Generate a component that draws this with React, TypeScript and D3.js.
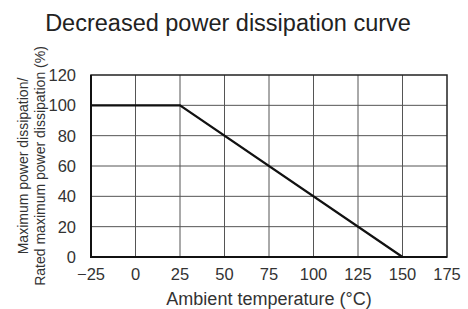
import { useRef, useEffect } from 'react';
import * as d3 from 'd3';

const temperatures = [-25, 25, 150];
const dissipation = [100, 100, 0];
const xTicks = [-25, 0, 25, 50, 75, 100, 125, 150, 175];
const yTicks = [0, 20, 40, 60, 80, 100, 120];

const title = 'Decreased power dissipation curve';
const xLabel = 'Ambient temperature (°C)';
const yLabelLines = ['Maximum power dissipation/', 'Rated maximum power dissipation (%)'];

function App() {
  const svgRef = useRef<SVGSVGElement | null>(null);
  const width = 468;
  const height = 309;

  useEffect(() => {
    const margin = { top: 75, right: 21, bottom: 52, left: 91 };
    const font = "'Liberation Sans', Arial, Helvetica, sans-serif";
    const svg = d3.select(svgRef.current).attr('viewBox', [0, 0, width, height].join(' '));
    svg.selectAll('*').remove();

    const x = d3
      .scaleLinear()
      .domain([-25, 175])
      .range([margin.left, width - margin.right]);
    const y = d3
      .scaleLinear()
      .domain([0, 120])
      .range([height - margin.bottom, margin.top]);

    // grid
    svg
      .append('g')
      .selectAll('line')
      .data(xTicks.slice(1, -1))
      .join('line')
      .attr('x1', (d) => x(d))
      .attr('x2', (d) => x(d))
      .attr('y1', y(0))
      .attr('y2', y(120))
      .attr('stroke', '#555')
      .attr('stroke-width', 1);

    svg
      .append('g')
      .selectAll('line')
      .data(yTicks.slice(1, -1))
      .join('line')
      .attr('x1', x(-25))
      .attr('x2', x(175))
      .attr('y1', (d) => y(d))
      .attr('y2', (d) => y(d))
      .attr('stroke', '#555')
      .attr('stroke-width', 1);

    // frame
    svg
      .append('rect')
      .attr('x', x(-25))
      .attr('y', y(120))
      .attr('width', x(175) - x(-25))
      .attr('height', y(0) - y(120))
      .attr('fill', 'none')
      .attr('stroke', '#222')
      .attr('stroke-width', 1.5);
    svg
      .append('path')
      .attr('d', `M${x(-25)},${y(120)}V${y(0)}H${x(175)}`)
      .attr('fill', 'none')
      .attr('stroke', '#111')
      .attr('stroke-width', 2);

    // curve
    const data = temperatures.map((t, i) => ({ t, p: dissipation[i] }));
    const line = d3
      .line<{ t: number; p: number }>()
      .x((d) => x(d.t))
      .y((d) => y(d.p));
    svg
      .append('path')
      .datum(data)
      .attr('d', line)
      .attr('fill', 'none')
      .attr('stroke', '#111')
      .attr('stroke-width', 2.2);

    // tick labels
    svg
      .append('g')
      .selectAll('text')
      .data(xTicks)
      .join('text')
      .attr('x', (d) => x(d))
      .attr('y', height - 29)
      .attr('text-anchor', 'middle')
      .attr('font-family', font)
      .attr('font-size', 16.5)
      .attr('fill', '#333')
      .text((d) => (d < 0 ? `\u2212${-d}` : `${d}`));

    svg
      .append('g')
      .selectAll('text')
      .data(yTicks)
      .join('text')
      .attr('x', 76)
      .attr('y', (d) => y(d) + 6)
      .attr('text-anchor', 'end')
      .attr('font-family', font)
      .attr('font-size', 16.5)
      .attr('fill', '#333')
      .text((d) => `${d}`);

    // titles
    svg
      .append('text')
      .attr('x', 228)
      .attr('y', 31)
      .attr('text-anchor', 'middle')
      .attr('font-family', font)
      .attr('font-size', 23.5)
      .attr('fill', '#222')
      .text(title);

    svg
      .append('text')
      .attr('x', (x(-25) + x(175)) / 2)
      .attr('y', height - 4)
      .attr('text-anchor', 'middle')
      .attr('font-family', font)
      .attr('font-size', 18)
      .attr('fill', '#333')
      .text(xLabel);

    const cy = (y(0) + y(120)) / 2;
    svg
      .append('g')
      .selectAll('text')
      .data(yLabelLines)
      .join('text')
      .attr('transform', (d, i) => `translate(${28 + i * 17},${cy}) rotate(-90)`)
      .attr('text-anchor', 'middle')
      .attr('font-family', font)
      .attr('font-size', 14)
      .attr('fill', '#333')
      .text((d) => d);
  }, []);

  return (
    <svg
      ref={svgRef}
      width={width}
      height={height}
      style={{ position: 'absolute', left: 0, top: 0, background: '#fff' }}
    ></svg>
  );
}

export default App;
